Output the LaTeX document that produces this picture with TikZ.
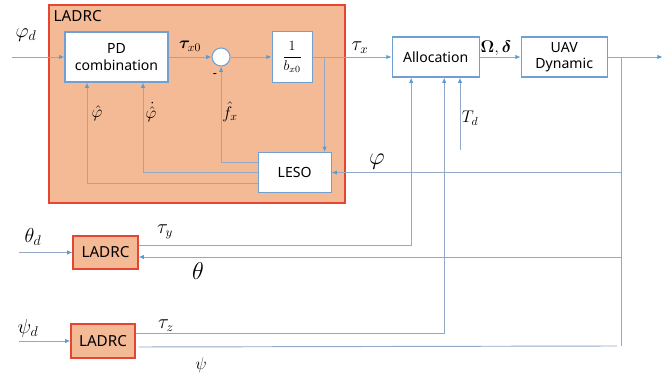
\documentclass[tikz,border=0pt]{standalone}
\usepackage{amsmath}
\usepackage{bm}
\usepackage[no-math]{fontspec}
\setsansfont{Noto Sans}
\usetikzlibrary{arrows.meta, positioning, calc}
\definecolor{cWire}{RGB}{146,168,196}
\definecolor{cBlue}{RGB}{112,160,210}
\definecolor{cTip}{RGB}{91,155,213}
\definecolor{cRed}{RGB}{228,70,50}
\definecolor{cFill}{RGB}{244,186,150}
\tikzset{
	blk/.style ={rectangle, draw=cBlue, line width=0.9pt, fill=white, align=center, inner sep=0pt, font=\sffamily\fontsize{12}{14}\selectfont},
	ctrl/.style={rectangle, draw=cRed, line width=0.9pt, fill=cFill, align=center, inner sep=0pt, font=\sffamily\fontsize{13}{15}\selectfont},
	sumj/.style={circle, draw=cBlue, line width=0.9pt, fill=white, minimum size=0.54cm, inner sep=0pt},
	wire/.style={draw=cWire, line width=0.8pt},
	sig/.style ={wire, -{Latex[length=1.6mm, width=1.3mm, color=cTip]}},
	lbl/.style ={inner sep=0pt, font=\fontsize{14}{16}\selectfont},
}
\begin{document}
\begin{tikzpicture}[x=0.03cm, y=-0.03cm]
	\useasboundingbox (0,0) rectangle (665,377);
	% roll channel
	\node[ctrl, minimum width=8.88cm, minimum height=5.94cm] (ladrc) at (197,104) {};
	\node[inner sep=0pt, anchor=north west, font=\sffamily\fontsize{13}{15}\selectfont] (ttl) at ($(ladrc.north west)+(5,6)$) {LADRC};
	\node[blk, minimum width=3.09cm, minimum height=1.5cm] (pd) at (116.5,57) {PD\\combination};
	\node[sumj, right=1.29cm of pd] (sum) {};
	\node[blk, minimum width=1.2cm, minimum height=1.53cm, right=1.23cm of sum] (binv) {$\dfrac{1}{b_{x0}}$};
	\node[blk, minimum width=2.19cm, minimum height=1.2cm, below=2.07cm of binv, xshift=0.075cm] (leso) {LESO};
	\node[blk, minimum width=2.61cm, minimum height=1.2cm, right=2.37cm of binv] (alloc) {Allocation};
	\node[blk, minimum width=2.58cm, minimum height=1.2cm, right=1.23cm of alloc] (uav) {UAV\\Dynamic};
	% pitch and yaw channels
	\node[ctrl, minimum width=1.95cm, minimum height=0.99cm] (ladrcy) at (105.5,252.5) {LADRC};
	\node[ctrl, minimum width=1.92cm, minimum height=1.02cm] (ladrcz) at (103,341) {LADRC};
	\coordinate (phid) at (12,57);
	\coordinate (thetad) at (19,252.5);
	\coordinate (psid) at (19,341);
	\coordinate (brx) at ($(binv.east)+(12,0)$);
	\coordinate (bry) at ($(uav.east)+(14,0)$);
	\coordinate (out) at ($(uav.east)+(55,0)$);
	\coordinate (ybot) at (617,346);
	\coordinate (td) at (460,150);
	% forward path
	\draw[sig] (phid) -- (pd);
	\draw[sig] (pd) -- (sum);
	\draw[sig] (sum) -- (binv);
	\draw[sig] (binv) -- (alloc);
	\draw[sig] (brx) -- (brx |- leso.north);
	\draw[sig] (alloc) -- (uav);
	\draw[sig] (uav) -- (out);
	\draw[wire] (bry) -- (bry |- ybot);
	% observer outputs
	\draw[sig] ($(leso.west)+(0,-10)$) -| (sum.south);
	\draw[sig] (leso.west) -| ($(pd.south)+(26.5,0)$);
	\draw[sig] ($(leso.west)+(0,11)$) -| ($(pd.south)+(-29.5,0)$);
	% feedback
	\draw[sig] (bry |- leso.east) -- (leso.east);
	\draw[sig] (bry |- ladrcy.east) ++(0,4.5) -- ($(ladrcy.east)+(0,4.5)$);
	\draw[wire] (ybot) -- ($(ladrcz.east)+(3,6)$);
	\draw[sig] (thetad) -- (ladrcy);
	\draw[sig] (psid) -- (ladrcz);
	\draw[sig] ($(ladrcy.east)+(0,-7.5)$) -| ($(alloc.south)+(-24.5,0)$);
	\draw[sig] ($(ladrcz.east)+(0,-8)$) -| ($(alloc.south)+(8.5,0)$);
	\draw[sig] (td) -- (td |- alloc.south);
	% labels
	\node[lbl, font=\fontsize{17}{19}\selectfont] (lphid) at (26,35) {$\varphi_d$};
	\node[lbl] (ltx0) at (190,46) {$\bm{\tau}_{x0}$};
	\node[lbl, font=\sffamily\fontsize{11}{13}\selectfont] (lminus) at (215,76) {-};
	\node[lbl, font=\fontsize{16}{18}\selectfont] (ltx) at (360,48) {$\tau_x$};
	\node[lbl, font=\fontsize{15}{17}\selectfont] (lom) at (496,48) {$\mathbf{\Omega},\bm{\delta}$};
	\node[lbl] (ltd) at (470,118) {$T_d$};
	\node[lbl, font=\fontsize{20}{22}\selectfont] (lphi) at (377,162) {$\varphi$};
	\node[lbl] (lph) at (97,113) {$\hat{\varphi}$};
	\node[lbl] (lphd) at (151,112) {$\dot{\hat{\varphi}}$};
	\node[lbl] (lfx) at (230,112) {$\hat{f}_x$};
	\node[lbl, font=\fontsize{17}{19}\selectfont] (lthd) at (33,237) {$\theta_d$};
	\node[lbl, font=\fontsize{16}{18}\selectfont] (lty) at (165,232) {$\tau_y$};
	\node[lbl, font=\fontsize{21}{23}\selectfont] (lth) at (198,271) {$\theta$};
	\node[lbl, font=\fontsize{17}{19}\selectfont] (lpsd) at (28,328) {$\psi_d$};
	\node[lbl, font=\fontsize{16}{18}\selectfont] (ltz) at (166,326) {$\tau_z$};
	\node[lbl, font=\fontsize{15}{17}\selectfont] (lps) at (201,365) {$\psi$};
\end{tikzpicture}
\end{document}
